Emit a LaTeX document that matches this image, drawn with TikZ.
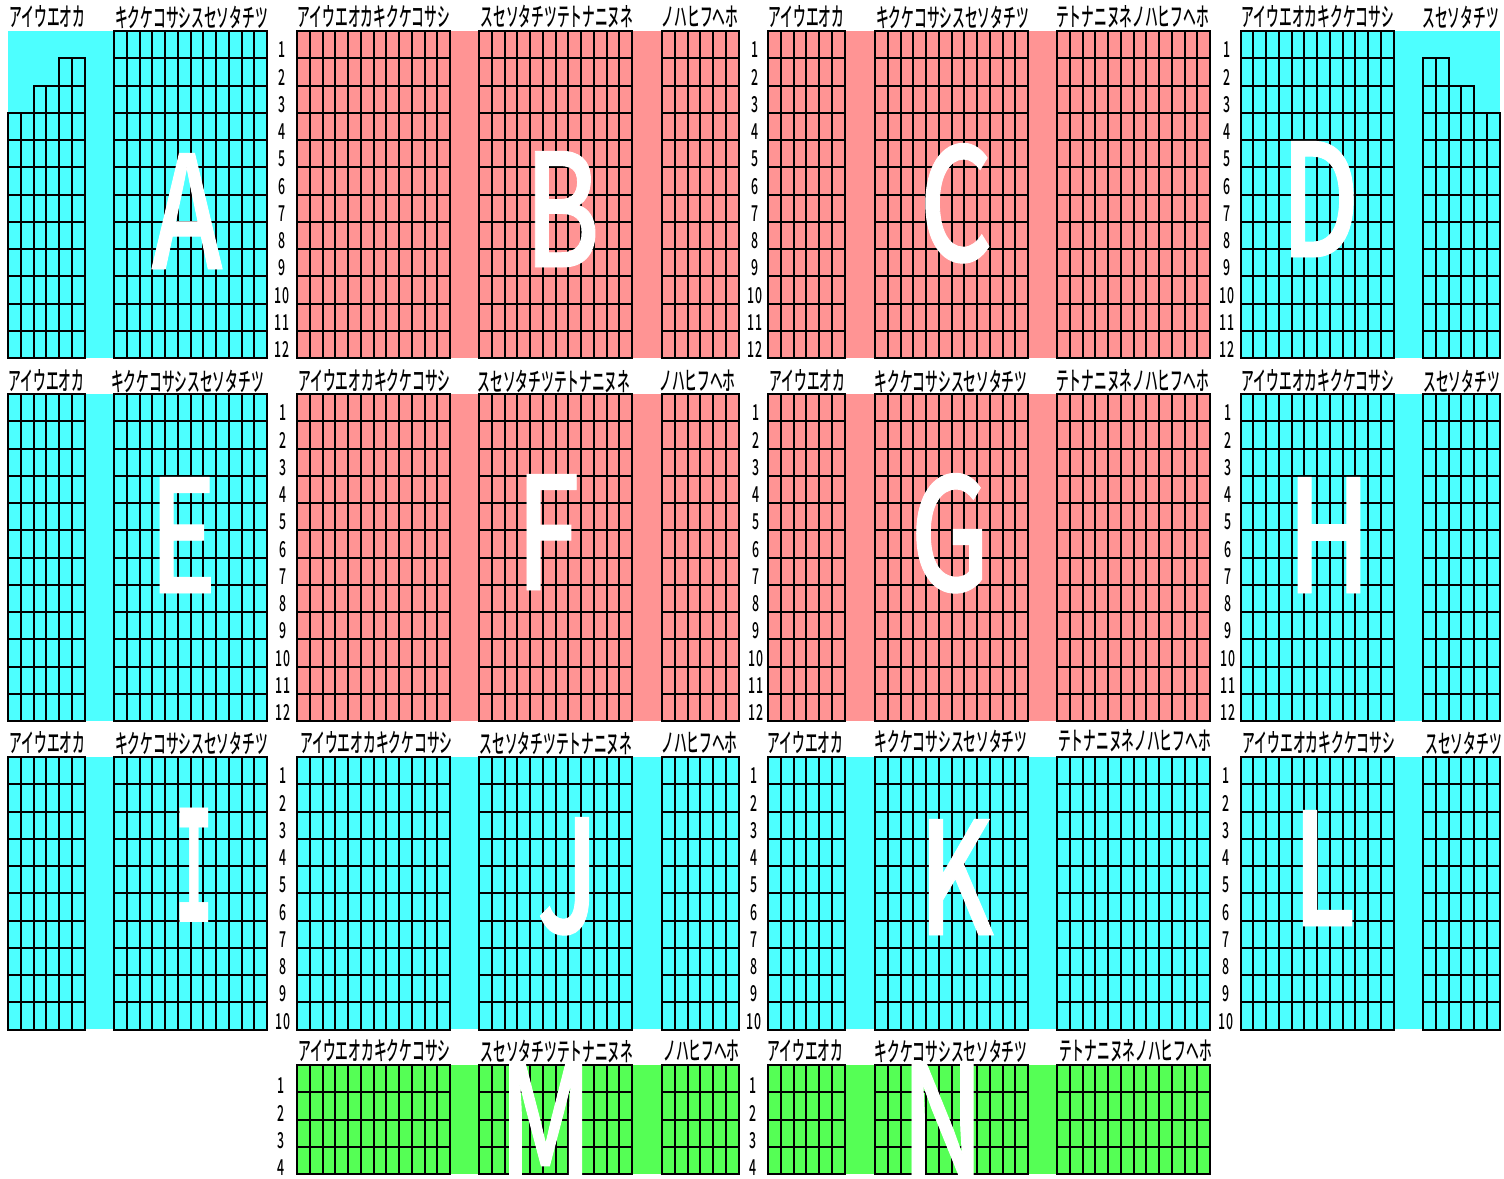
\documentclass[tikz,border=0pt]{standalone}
\usepackage{fontspec}
\usepackage{xcolor}
\usetikzlibrary{positioning}
\newfontfamily\kanafont[FakeStretch=0.49]{Noto Sans CJK JP Medium}
\newfontfamily\numfont[FakeStretch=0.56]{Noto Sans CJK JP Medium}
\newfontfamily\bigfont[FakeStretch=0.72,FakeBold=0.6]{Noto Sans CJK JP Medium}
\newfontfamily\slabfont[FakeStretch=0.42]{DejaVu Sans Mono Bold}
\definecolor{seatcyan}{RGB}{77,255,255}
\definecolor{seatpink}{RGB}{255,148,148}
\definecolor{seatgreen}{RGB}{85,255,85}
\tikzset{
  seatline/.style={draw=black, line width=2pt, line cap=rect},
  headlabel/.style={anchor=center, inner sep=0pt, font=\kanafont\fontsize{26}{26}\selectfont},
  rowlabel/.style={anchor=center, inner sep=0pt, font=\numfont\fontsize{22}{22}\selectfont},
  bigletter/.style={anchor=base, inner sep=0pt, text=white, font=\bigfont\fontsize{157}{157}\selectfont},
}
% cells: left edge, top edge, number of columns, number of rows
\newcommand{\seatgrid}[4]{%
  \foreach \i in {0,...,#3}{\draw[seatline] ({#1+\i*12.75},{#2}) -- ({#1+\i*12.75},{#2+#4*27.25});}
  \foreach \j in {0,...,#4}{\draw[seatline] ({#1},{#2+\j*27.25}) -- ({#1+#3*12.75},{#2+\j*27.25});}
}
% row numbers at x, first row top y
\newcommand{\rownums}[3]{%
  \foreach \j in {1,...,#3}{\node[rowlabel] (r#1n\j) at ({#1},{#2+19+(\j-1)*27.25}) {\j};}
}
\begin{document}
\begin{tikzpicture}[x=1pt, y=-1pt]
\useasboundingbox (0,0) rectangle (1504,1178);
% Row 1
\fill[seatcyan] (7.5,31) rectangle (267,358);
\fill[seatpink] (297,31) rectangle (739,358);
\fill[seatpink] (768,31) rectangle (1210.5,358);
\fill[seatcyan] (1241,31) rectangle (1500,358);
% Row 2
\fill[seatpink] (297,394) rectangle (739,721);
\fill[seatpink] (768,394) rectangle (1210.5,721);
\fill[seatcyan] (7.5,394) rectangle (267,721);
\fill[seatcyan] (1241,394) rectangle (1500,721);
% Row 3
\fill[seatcyan] (7.5,757) rectangle (267,1029);
\fill[seatcyan] (297,757) rectangle (739,1029);
\fill[seatcyan] (768,757) rectangle (1210.5,1029);
\fill[seatcyan] (1241,757) rectangle (1500,1029);
% Row 4
\fill[seatgreen] (297,1065) rectangle (739,1174);
\fill[seatgreen] (768,1065) rectangle (1210.5,1174);
% Grids
\foreach \y/\n in {31/12,394/12,757/10}{
  \seatgrid{114}{\y}{12}{\n}
  \seatgrid{1240.5}{\y}{12}{\n}
}
\foreach \y/\n in {394/12,757/10}{
  \seatgrid{8}{\y}{6}{\n}
  \seatgrid{1423}{\y}{6}{\n}
}
\foreach \y/\n in {31/12,394/12,757/10,1065/4}{
  \seatgrid{297}{\y}{12}{\n}
  \seatgrid{479}{\y}{12}{\n}
  \seatgrid{662}{\y}{6}{\n}
  \seatgrid{768}{\y}{6}{\n}
  \seatgrid{875}{\y}{12}{\n}
  \seatgrid{1057}{\y}{12}{\n}
}
% Stepped corners
\seatgrid{8}{112.75}{6}{9}
\seatgrid{33.5}{85.5}{4}{1}
\seatgrid{59}{58.25}{2}{1}
\seatgrid{1423}{112.75}{6}{9}
\seatgrid{1423}{85.5}{4}{1}
\seatgrid{1423}{58.25}{2}{1}
% Header labels
\foreach \nm/\x/\y/\t in {
  h1/47.5/17/アイウエオカ, h2/191.5/17/キクケコサシスセソタチツ, h3/374/17/アイウエオカキクケコサシ, h4/557/17/スセソタチツテトナニヌネ, h5/700/17/ノハヒフヘホ,
  h6/806.5/17/アイウエオカ, h7/952.5/17/キクケコサシスセソタチツ, h8/1132.5/17/テトナニヌネノハヒフヘホ, h9/1318/17/アイウエオカキクケコサシ, h10/1460.5/17/スセソタチツ,
  h11/46.5/381/アイウエオカ, h12/187.5/381/キクケコサシスセソタチツ, h13/374.5/381/アイウエオカキクケコサシ, h14/554/381/スセソタチツテトナニヌネ, h15/697.5/381/ノハヒフヘホ,
  h16/807.5/381/アイウエオカ, h17/951/381/キクケコサシスセソタチツ, h18/1132.5/381/テトナニヌネノハヒフヘホ, h19/1318/381/アイウエオカキクケコサシ, h20/1461.5/381/スセソタチツ,
  h21/47.5/743/アイウエオカ, h22/191.5/743/キクケコサシスセソタチツ, h23/376.5/743/アイウエオカキクケコサシ, h24/556/743/スセソタチツテトナニヌネ, h25/699.5/743/ノハヒフヘホ,
  h26/805.5/743/アイウエオカ, h27/951/741/キクケコサシスセソタチツ, h28/1134.5/741/テトナニヌネノハヒフヘホ, h29/1319/743/アイウエオカキクケコサシ, h30/1463.5/743/スセソタチツ,
  h31/374.5/1051/アイウエオカキクケコサシ, h32/557/1051/スセソタチツテトナニヌネ, h33/701.5/1051/ノハヒフヘホ, h34/805.5/1051/アイウエオカ, h35/951/1051/キクケコサシスセソタチツ, h36/1135.5/1051/テトナニヌネノハヒフヘホ}
  {\node[headlabel] (\nm) at (\x,\y) {\t};}
% Row numbers
\foreach \x in {282,755,1227}{\rownums{\x}{31}{12}}
\foreach \x in {283,756,1228}{\rownums{\x}{394}{12}}
\foreach \x in {283,754,1226}{\rownums{\x}{757}{10}}
\foreach \x in {281,753}{\rownums{\x}{1067}{4}}
% Block letters
\foreach \t/\x/\y in {A/187/269,B/562/267,C/956/261,D/1320/257,E/183/593,F/548/590,G/950/591,H/1329/593,J/568/933,K/956/935,L/1324/926,M/545.5/1177,N/942.5/1177}
  {\node[bigletter] (let\t) at (\x,\y) {\t};}
\node[bigletter, font=\slabfont\fontsize{157}{157}\selectfont] (letI) at (194,922) {I};
\end{tikzpicture}
\end{document}
